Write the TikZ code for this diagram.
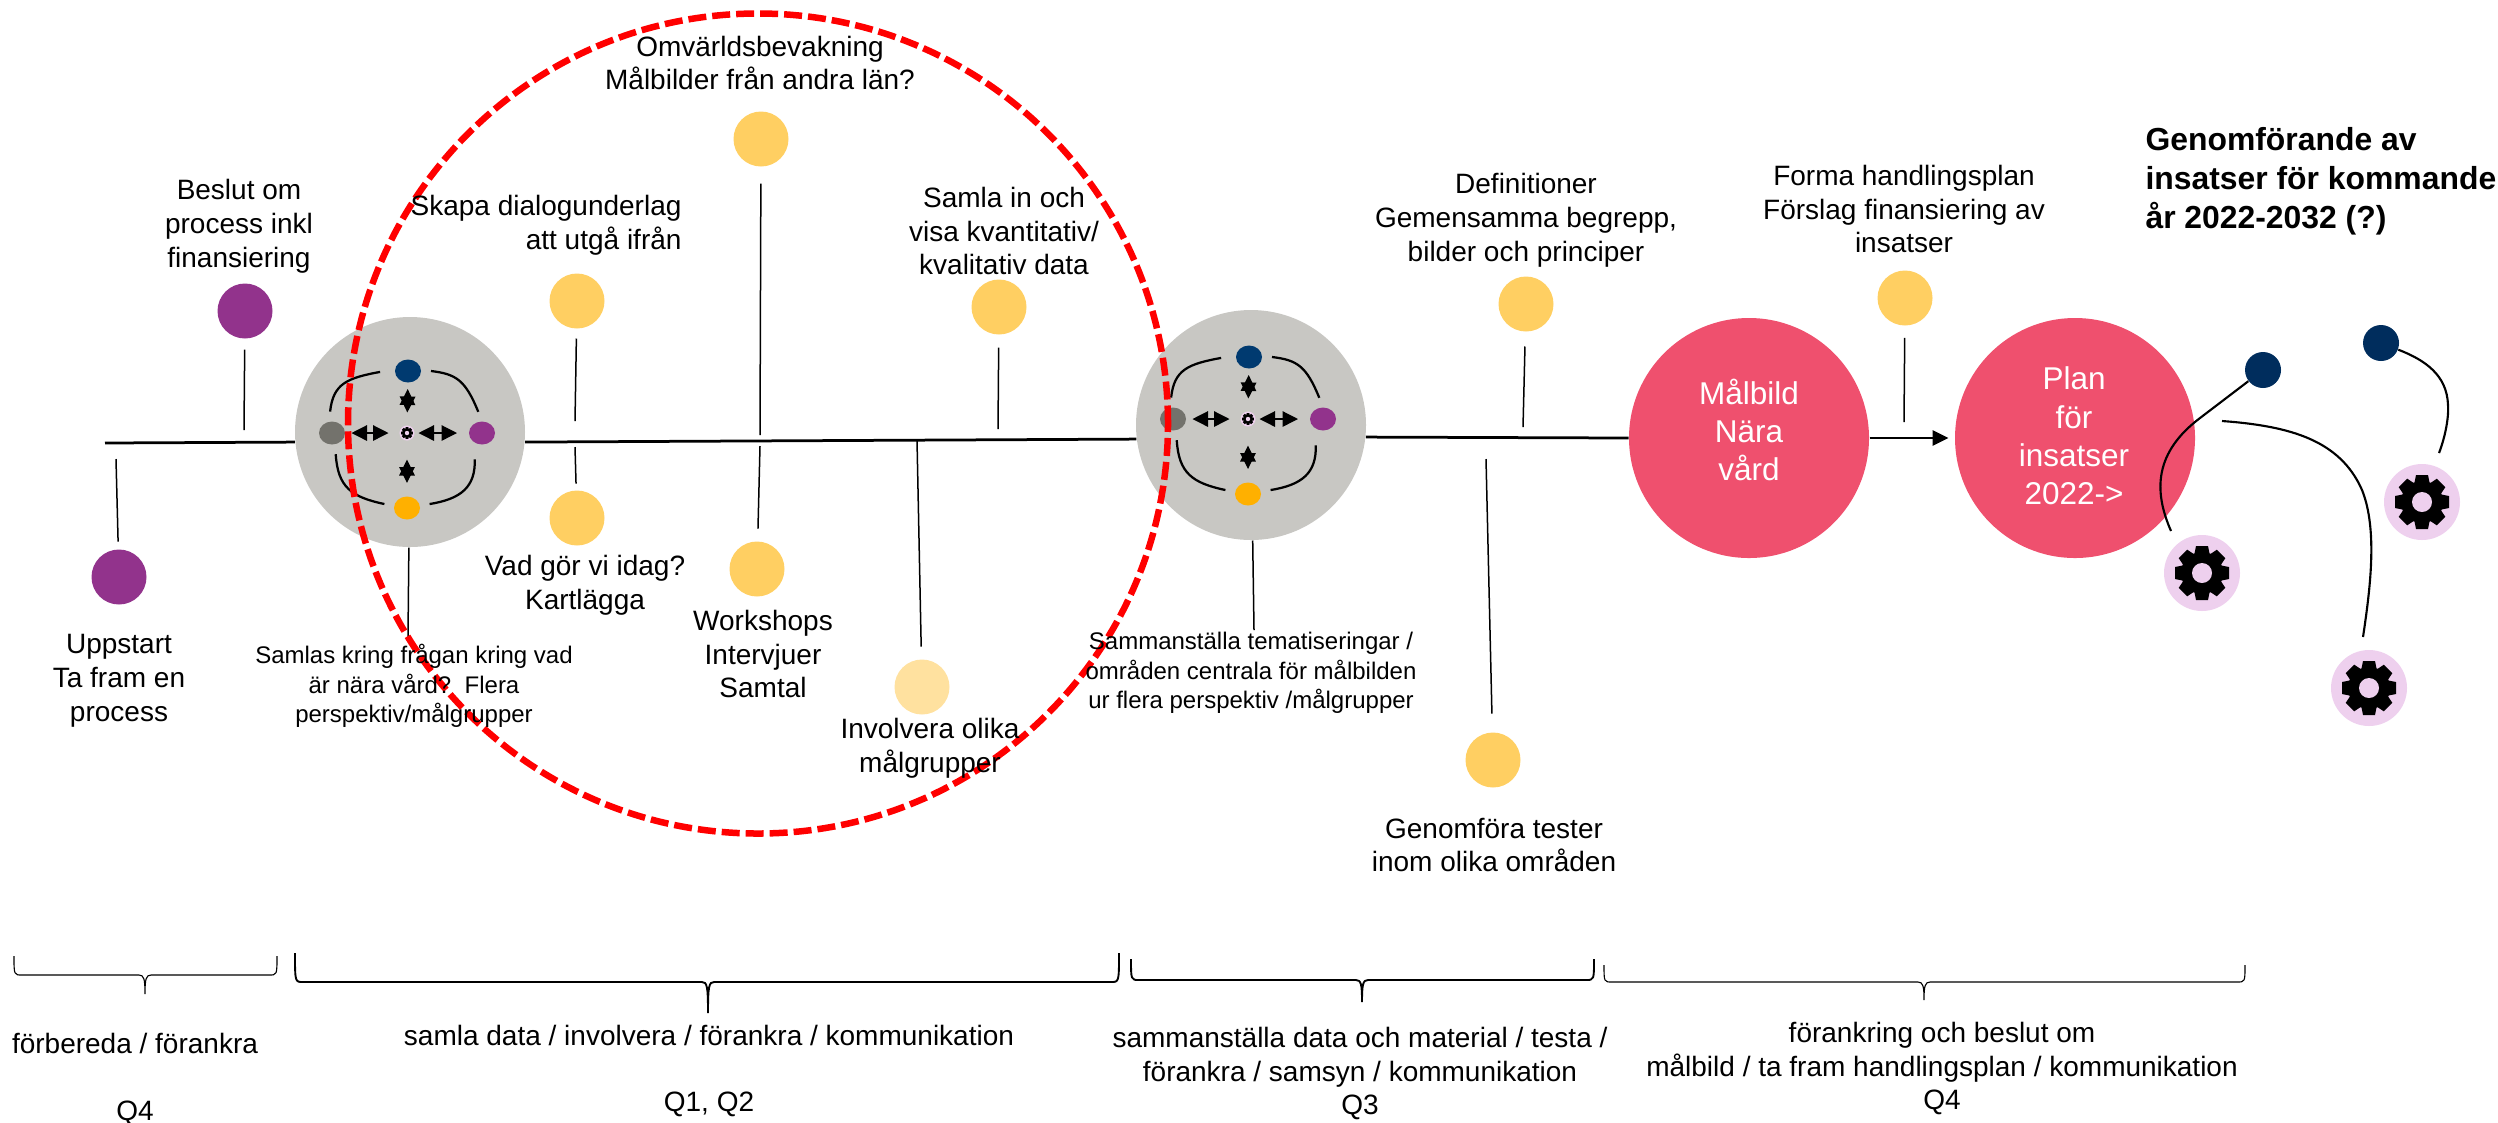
\documentclass[tikz,border=0pt]{standalone}
\usepackage{fontspec}
\setmainfont{Liberation Sans}
\usetikzlibrary{positioning, arrows.meta, shapes.geometric}
\definecolor{hubgray}{HTML}{C8C7C3}
\definecolor{rosered}{HTML}{EF506E}
\definecolor{sunyellow}{HTML}{FFCF62}
\definecolor{paleyellow}{HTML}{FFE19F}
\definecolor{plum}{HTML}{92338C}
\definecolor{navy}{HTML}{003A70}
\definecolor{deepnavy}{HTML}{002D5D}
\definecolor{amber}{HTML}{FFB000}
\definecolor{stone}{HTML}{73726C}
\definecolor{lilac}{HTML}{EED0EE}
\tikzset{txt/.style={align=center, inner sep=0pt, font=\fontsize{11.2}{13.5}\selectfont}}
\tikzset{smalltxt/.style={align=center, inner sep=0pt, font=\fontsize{9.6}{11.8}\selectfont}}
\tikzset{whitetxt/.style={align=center, inner sep=0pt, text=white, font=\fontsize{12.6}{15.3}\selectfont}}
\tikzset{dot/.style={circle, inner sep=0pt, minimum size=22pt, fill=#1}}
\tikzset{smalldot/.style={ellipse, inner sep=0pt, minimum width=10.4pt, minimum height=9.2pt, outer sep=4pt, fill=#1}}
\tikzset{hubdisc/.style={circle, inner sep=0pt, minimum size=92pt, fill=hubgray}}
\tikzset{bigdisc/.style={circle, inner sep=0pt, minimum size=96pt, fill=rosered}}
\tikzset{geardisc/.style={circle, inner sep=0pt, minimum size=30.4pt, fill=lilac}}
\tikzset{navydot/.style={circle, inner sep=0pt, minimum size=14.4pt, fill=deepnavy}}
\tikzset{stem/.style={draw, line width=0.6pt}}
\tikzset{mainline/.style={draw, line width=1.1pt}}
\tikzset{loopline/.style={draw, line width=0.9pt}}
\tikzset{curveline/.style={draw, line width=0.85pt}}
\tikzset{hubarr/.style={draw, line width=0.5pt, {Triangle[length=#1, width=6.2pt]}-{Triangle[length=#1, width=6.2pt]}}}
\tikzset{gearpic/.pic={
    \foreach \a in {0,45,...,315}
        \fill[black, rotate=\a] (-8,17) -- (-6,27) -- (6,27) -- (8,17) -- cycle;
    \fill[black] (0,0) circle (21);
    \fill[lilac] (0,0) circle (10);
}}
\begin{document}
\begin{tikzpicture}[x=0.4pt, y=-0.4pt]
    \useasboundingbox (0,0) rectangle (2498,1122);
    % hubs on the line
    \foreach \hub/\hx/\hy/\cx/\cy in {A/410/432/407/433, B/1251/425/1248/419} {
        \node[hubdisc] (hub\hub) at (\hx,\hy) {};
        \node[geardisc, minimum size=6pt] (core\hub) at (\cx,\cy) {};
        \path pic[scale=.22] at (core\hub) {gearpic};
        \node[smalldot=navy] (n\hub) at (\cx+1,\cy-62) {};
        \node[smalldot=stone] (w\hub) at (\cx-75,\cy) {};
        \node[smalldot=plum] (e\hub) at (\cx+75,\cy) {};
        \node[smalldot=amber] (s\hub) at (\cx,\cy+75) {};
        \draw[loopline, shorten >=2pt] (w\hub.95) .. controls +(3,-28) and +(-38,7) .. (n\hub.180);
        \draw[loopline] (n\hub.0) .. controls +(25,3) and +(-13,-32) .. (e\hub.100);
        \draw[loopline, shorten <=2.4pt] (e\hub.-110) .. controls +(1,34) and +(31,-5) .. (s\hub.10);
        \draw[loopline] (s\hub.170) .. controls +(-33,-7) and +(2,33) .. (w\hub.-80);
        \draw[hubarr=6.2pt, shorten <=-1.4pt, shorten >=4.2pt] (w\hub) -- (core\hub);
        \draw[hubarr=6.2pt, shorten <=0.8pt, shorten >=1.4pt] (e\hub) -- (core\hub);
        \draw[hubarr=6.4pt, shorten <=-1.4pt, shorten >=5pt] (n\hub) -- (core\hub);
        \draw[hubarr=6.4pt, shorten <=1.4pt, shorten >=7.4pt] (s\hub) -- (core\hub);
    }
    % main line
    \node[bigdisc] (malbild) at (1749,438) {};
    \node[bigdisc] (plan) at (2075,438) {};
    \coordinate (start) at (105,443);
    \draw[mainline] (start) -- (hubA.185);
    \draw[mainline] (hubA.-5) -- (hubB.187);
    \draw[mainline] (hubB.-6) -- (malbild.180);
    \draw[mainline, -{Triangle[length=6.4pt, width=6pt]}, shorten >=2.4pt] (malbild) -- (plan);
    \node[whitetxt] (malbildtxt) at (1749,430) {Målbild\\Nära\\vård};
    \node[whitetxt] (plantxt) at (2074,436) {Plan\\för\\insatser\\2022->};
    % dots and their stems
    \foreach \d/\dx/\dy/\col/\gap/\ex/\ey in {beslut/245/311/plum/4.4/244/430, uppstart/119/577/plum/3.2/116/459,
        skapa/577/301/sunyellow/4/575/421, omvarld/761/139/sunyellow/6.8/760/435,
        samla/999/307/sunyellow/5.2/998/429, vad/577/518/sunyellow/2.8/575/447,
        workshop/757/569/sunyellow/5.2/760/446, involvera/922/687/paleyellow/5.2/917/440,
        defin/1526/304/sunyellow/6/1523/427, forma/1905/298/sunyellow/4.9/1904/422,
        tester/1493/760/sunyellow/7.6/1486/459} {
        \node[dot=\col, outer sep=\gap pt] (\d) at (\dx,\dy) {};
        \coordinate (\d foot) at (\ex,\ey);
        \draw[stem] (\d) -- (\d foot);
    }
    \coordinate (hubAfoot) at (408,637);
    \coordinate (hubBfoot) at (1254,630);
    \draw[stem] (hubA) -- (hubAfoot);
    \draw[stem] (hubB) -- (hubBfoot);
    % gears to the right
    \node[geardisc] (gearA) at (2202,573) {};
    \node[geardisc] (gearB) at (2369,688) {};
    \node[geardisc] (gearC) at (2422,502) {};
    \foreach \g in {gearA,gearB,gearC}
        \path pic at (\g) {gearpic};
    \node[navydot] (markA) at (2263,370) {};
    \node[navydot] (markC) at (2381,343) {};
    \coordinate (markB) at (2222,421);
    \coordinate (footA) at (2171,531);
    \coordinate (footB) at (2363,637);
    \coordinate (footC) at (2439,453);
    \draw[curveline] (markA) -- (2200,418) .. controls (2155,452) and (2153,490) .. (footA);
    \draw[curveline] (markB) .. controls (2290,426) and (2340,440) .. (2362,490)
        .. controls (2378,530) and (2370,590) .. (footB);
    \draw[curveline] (markC) .. controls (2425,360) and (2447,375) .. (2448,405)
        .. controls (2449,420) and (2444,440) .. (footC);
    % red ring
    \node[circle, draw=red, line width=2.6pt, dash pattern=on 7.2pt off 2.4pt, inner sep=0pt,
        minimum size=328pt, outer sep=0pt] (ring) at (758,423.5) {};
    % labels
    \node[txt] (t1) at (239,226) {Beslut om\\process inkl\\finansiering};
    \node[txt] (t2) at (119,681) {Uppstart\\Ta fram en\\process};
    \node[txt, align=right, anchor=east] (t3) at (682,225) {Skapa dialogunderlag\\att utgå ifrån};
    \node[txt] (t4) at (760,63) {Omvärldsbevakning\\Målbilder från andra län?};
    \node[txt] (t5) at (1004,231) {Samla in och\\visa kvantitativ/\\kvalitativ data};
    \node[txt] (t6) at (585,585) {Vad gör vi idag?\\Kartlägga};
    \node[txt] (t7) at (763,654) {Workshops\\Intervjuer\\Samtal};
    \node[txt] (t8) at (930,748) {Involvera olika\\målgrupper};
    \node[smalltxt] (t9) at (414,686) {Samlas kring frågan kring vad\\är nära vård?~~Flera\\perspektiv/målgrupper};
    \node[smalltxt] (t10) at (1251,673) {Sammanställa tematiseringar /\\områden centrala för målbilden\\ur flera perspektiv /målgrupper};
    \node[txt] (t11) at (1526,220) {Definitioner\\Gemensamma begrepp,\\bilder och principer};
    \node[txt] (t12) at (1904,209) {Forma handlingsplan\\Förslag finansiering av\\insatser};
    \node[txt] (t13) at (1494,845) {Genomföra tester\\inom olika områden};
    \node[inner sep=0pt, align=left, anchor=west, font=\bfseries\fontsize{12.75}{15.6}\selectfont] (t14) at (2145,181)
        {Genomförande av\\insatser för kommande\\år 2022-2032 (?)};
    % braces
    \foreach \xa/\xm/\xb/\yt/\yh/\yb/\lw in {14/145/277/956/975/994/0.45, 295/708/1119/953/982/1013/0.75,
        1131/1362/1594/959/980/1002/0.75, 1604/1924/2245/965/982/1000/0.45}
        \draw[line width=\lw pt] (\xa,\yt) .. controls (\xa,\yh) and (\xa,\yh) .. (\xa+8,\yh)
            -- (\xm-6,\yh) .. controls (\xm-1,\yh) and (\xm,\yh+4) .. (\xm,\yb)
            .. controls (\xm,\yh+4) and (\xm+1,\yh) .. (\xm+6,\yh)
            -- (\xb-8,\yh) .. controls (\xb,\yh) and (\xb,\yh) .. (\xb,\yt);
    \node[txt] (b1) at (135,1043) {förbereda / förankra};
    \node[txt] (q1) at (135,1113) {Q4};
    \node[txt] (b2) at (709,1035) {samla data / involvera / förankra / kommunikation};
    \node[txt] (q2) at (709,1104) {Q1, Q2};
    \node[txt] (b3) at (1360,1057) {sammanställa data och material / testa /\\förankra / samsyn / kommunikation};
    \node[txt] (q3) at (1360,1107) {Q3};
    \node[txt] (b4) at (1942,1052) {förankring och beslut om\\målbild / ta fram handlingsplan / kommunikation};
    \node[txt] (q4) at (1942,1102) {Q4};
\end{tikzpicture}
\end{document}
